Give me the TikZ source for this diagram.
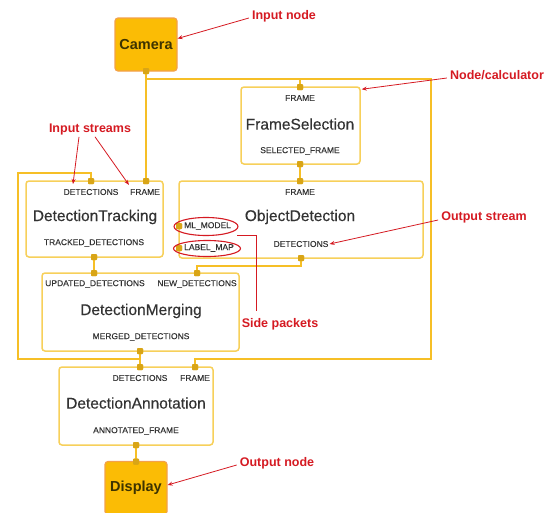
\documentclass[tikz,border=0pt]{standalone}
\usepackage{fontspec}
\setmainfont{Liberation Sans}
\newfontfamily\ttlfont[FakeBold=0.35]{Liberation Sans}
\newfontfamily\lblfont[FakeBold=0.15]{Liberation Sans}
\usetikzlibrary{arrows.meta,shapes.geometric}
\definecolor{boxline}{HTML}{F7D05A}
\definecolor{wire}{HTML}{F6BF26}
\definecolor{portc}{HTML}{D9A516}
\definecolor{camfill}{HTML}{FBBC05}
\definecolor{camline}{HTML}{F3A14A}
\definecolor{annot}{HTML}{D51A22}
\definecolor{txt}{HTML}{333333}
\definecolor{camtxt}{HTML}{3D3300}
\tikzset{
  calcbox/.style={draw=boxline, line width=1.5pt, fill=white, rounded corners=3pt, inner sep=0pt},
  iobox/.style={draw=camline, line width=1.2pt, fill=camfill, rounded corners=3pt, inner sep=0pt,
    minimum width=62pt, minimum height=53pt, text=camtxt, font=\bfseries\fontsize{14.5}{17}\selectfont},
  port/.style={fill=portc, minimum size=6pt, inner sep=0pt, rounded corners=1pt},
  wirestyle/.style={draw=wire, line width=2.6pt},
  lbl/.style={font=\lblfont\fontsize{8.5}{10}\selectfont, text=txt, inner sep=0pt},
  ttl/.style={font=\ttlfont\fontsize{15.5}{18}\selectfont, text=txt, inner sep=0pt},
  ann/.style={font=\bfseries\fontsize{12.5}{15}\selectfont, text=annot, inner sep=0pt},
  annarrow/.style={draw=annot, line width=0.8pt, -{Stealth[length=5pt,width=4pt]}},
  ring/.style={draw=annot, line width=1.1pt, ellipse, inner sep=0pt}
}
\begin{document}
\begin{tikzpicture}[x=1pt,y=-1pt]
\useasboundingbox (0,0) rectangle (549,512);
\begin{scope}
\clip (0,0) rectangle (549,512);
% calculator boxes
\node[calcbox, minimum width=119pt, minimum height=77pt] (fs) at (300.5,125.5) {};
\node[calcbox, minimum width=137pt, minimum height=76pt] (dt) at (94.5,219) {};
\node[calcbox, minimum width=244pt, minimum height=77pt] (od) at (301,219.5) {};
\node[calcbox, minimum width=197pt, minimum height=78pt] (dm) at (140.5,312) {};
\node[calcbox, minimum width=154pt, minimum height=78pt] (da) at (136,406) {};
% input / output nodes
\node[iobox] (cam) at (146,44.5) {Camera};
\node[iobox] (disp) at (136,488) {Display};

% ports
\node[port] (camo) at (146,71) {};
\node[port] (fsi) at (300,87) {};
\node[port] (fso) at (300,164) {};
\node[port] (dtd) at (91,181) {};
\node[port] (dtf) at (146,181) {};
\node[port] (dto) at (94,257) {};
\node[port] (odi) at (300,181) {};
\node[port] (odo) at (301,258) {};
\node[port] (odml) at (179,226) {};
\node[port] (odlm) at (179,248) {};
\node[port] (dmu) at (94,273) {};
\node[port] (dmn) at (197,273) {};
\node[port] (dmo) at (140,351) {};
\node[port] (dad) at (140,367) {};
\node[port] (daf) at (195,367) {};
\node[port] (dao) at (136,445) {};
\node[port] (dispi) at (136,461.5) {};

% routing coordinates
\coordinate (j1) at (146,79);
\coordinate (bTR) at (431,79);
\coordinate (bBR) at (431,359);
\coordinate (bBL) at (18,359);
\coordinate (bTL) at (18,173);

% wires
\draw[wirestyle] (camo.center) -- (dtf.center);
\draw[wirestyle] (j1) -| (fsi.center);
\draw[wirestyle] (j1) -- (bTR) -- (bBR) -| (daf.center);
\draw[wirestyle] (fso.center) -- (odi.center);
\draw[wirestyle] (dto.center) -- (dmu.center);
\draw[wirestyle] (odo.center) -- ++(0,8) -| (dmn.center);
\draw[wirestyle] (dmo.center) -- (dad.center);
\draw[wirestyle] (dmo.center |- bBL) -- (bBL) -- (bTL) -| (dtd.center);
\draw[wirestyle] (dao.center) -- (dispi.center);

% redraw ports on top
\foreach \p in {camo,fsi,fso,dtd,dtf,dto,odi,odo,odml,odlm,dmu,dmn,dmo,dad,daf,dao,dispi}
  \fill[portc, rounded corners=1pt] ([xshift=-3pt,yshift=-3pt]\p.center) rectangle ([xshift=3pt,yshift=3pt]\p.center);

% FrameSelection texts
\node[lbl] (fsF) at (300,98) {FRAME};
\node[ttl] (fsT) at (300,124) {FrameSelection};
\node[lbl] (fsS) at (300,151) {SELECTED\_FRAME};
% DetectionTracking texts
\node[lbl] (dtDl) at (91,192) {DETECTIONS};
\node[lbl] (dtFl) at (145,192) {FRAME};
\node[ttl] (dtT) at (95,217) {DetectionTracking};
\node[lbl] (dtO) at (94,243) {TRACKED\_DETECTIONS};
% ObjectDetection texts
\node[lbl] (odF) at (300,192) {FRAME};
\node[ttl] (odT) at (300,217) {ObjectDetection};
\node[lbl] (odDl) at (301,244) {DETECTIONS};
\node[lbl, anchor=west] (odMl) at (184,226) {ML\_MODEL};
\node[lbl, anchor=west] (odLm) at (184,248) {LABEL\_MAP};
% DetectionMerging texts
\node[lbl] (dmU) at (95,284) {UPDATED\_DETECTIONS};
\node[lbl] (dmN) at (197,284) {NEW\_DETECTIONS};
\node[ttl] (dmT) at (141,311) {DetectionMerging};
\node[lbl] (dmO) at (141,337) {MERGED\_DETECTIONS};
% DetectionAnnotation texts
\node[lbl] (daD) at (140,378) {DETECTIONS};
\node[lbl] (daFl) at (195,378) {FRAME};
\node[ttl] (daT) at (136,403) {DetectionAnnotation};
\node[lbl] (daO) at (136,431) {ANNOTATED\_FRAME};

% side packet rings
\node[ring, minimum width=64pt, minimum height=18pt] (mlell) at (206,226.5) {};
\node[ring, minimum width=67pt, minimum height=16pt] (lmell) at (207,248.5) {};

% annotations
\node[ann] (aIn) at (284,16) {Input node};
\draw[annarrow] ([xshift=-3pt,yshift=-2pt]aIn.west) -- ([yshift=6pt]cam.east);
\node[ann] (aCalc) at (497,75) {Node/calculator};
\draw[annarrow] ([xshift=-3pt,yshift=-3pt]aCalc.west) -- ([xshift=1pt,yshift=-3pt]fs.north east);
\node[ann] (aStreams) at (90,129) {Input streams};
\coordinate (isA) at (73,184);
\draw[annarrow] ([xshift=-11pt,yshift=-2pt]aStreams.south) -- (isA);
\draw[annarrow] ([xshift=5pt,yshift=-2pt]aStreams.south) -- ([xshift=-1pt,yshift=4pt]dtFl.north west);
\node[ann] (aOut) at (484,217) {Output stream};
\draw[annarrow] ([xshift=-3pt,yshift=-3pt]aOut.west) -- ([xshift=1pt]odDl.east);
\node[ann] (aSide) at (280,324) {Side packets};
\coordinate (spS) at (237,235);
\coordinate (spE) at (256,311);
\draw[draw=annot, line width=0.9pt] (spS) -| (spE);
\node[ann] (aOn) at (277,463) {Output node};
\draw[annarrow] ([xshift=-3pt,yshift=-2pt]aOn.west) -- ([yshift=3pt]disp.east);
\end{scope}
\end{tikzpicture}
\end{document}
